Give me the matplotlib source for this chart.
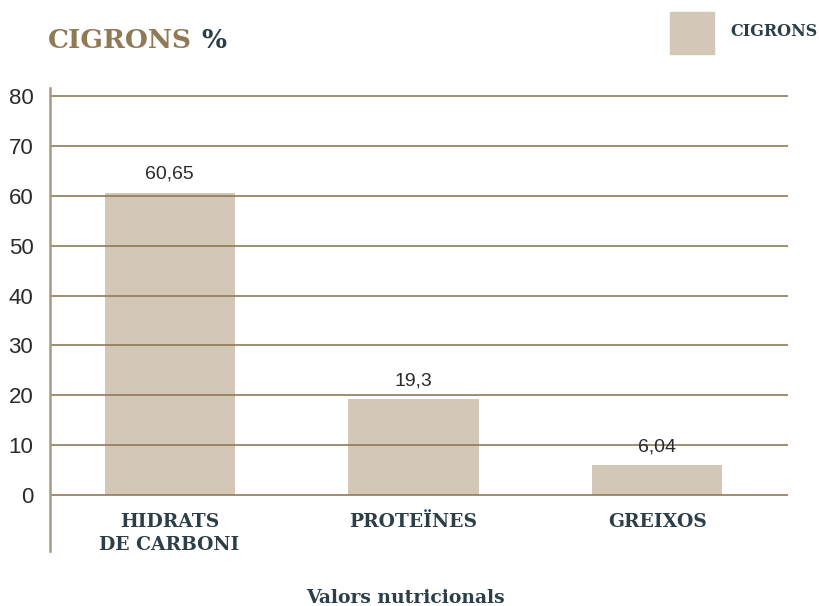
import matplotlib.pyplot as plt

# data
categories = ['HIDRATS\nDE CARBONI', 'PROTEÏNES', 'GREIXOS']
values = [60.65, 19.3, 6.04]
value_labels = ['60,65', '19,3', '6,04']
yticks = [0, 10, 20, 30, 40, 50, 60, 70, 80]

bar_col = '#d3c7b8'
grid_col = '#8f7a55'
dark = '#2c3e48'
tan = '#8f7a55'
slab = 'DejaVu Serif'
num_font = 'Liberation Sans'

fig = plt.figure(figsize=(8.19, 6.06), dpi=100)
ax = fig.add_axes([50/819, 55/606, 738/819, 463/606])

ax.bar(range(len(values)), values, width=0.533, color=bar_col, zorder=1)
for y in yticks:
    ax.axhline(y, color=grid_col, lw=1.2, zorder=2)

ax.set_xlim(-0.49, 2.535)
ax.set_ylim(-11.2, 81.6)
ax.set_yticks(yticks)
ax.set_yticklabels([str(t) for t in yticks], fontsize=16, color='#2a2a2a',
                   family=num_font)
ax.tick_params(axis='y', length=0, pad=12)
ax.set_xticks([])
for s in ['top', 'right', 'bottom']:
    ax.spines[s].set_visible(False)
ax.spines['left'].set_color('#a89a80')
ax.spines['left'].set_linewidth(1.8)

for i, (v, lab) in enumerate(zip(values, value_labels)):
    ax.annotate(lab, (i, v), xytext=(0, 13), textcoords='offset points',
                ha='center', va='center', fontsize=14, color='#2a2a2a',
                family=num_font)
    ax.annotate(categories[i], (i, 0), xytext=(0, -13), textcoords='offset points',
                ha='center', va='top', fontsize=13.5, color=dark,
                family=slab, fontweight='bold', linespacing=1.35)

# title in two colours
t1 = fig.text(48/819, 1 - 40/606, 'CIGRONS', fontsize=19, fontweight='bold',
              family=slab, color=tan, va='center', ha='left')
fig.canvas.draw()
bb = t1.get_window_extent()
fig.text((bb.x1 + 9) / 819, 1 - 40/606, '%', fontsize=19, fontweight='bold',
         family=slab, color=dark, va='center', ha='left')

# legend
fig.patches.append(plt.Rectangle((670/819, 1 - 54/606), 44/819, 42/606,
                                 transform=fig.transFigure, color=bar_col))
fig.text(730/819, 1 - 31/606, 'CIGRONS', fontsize=11.5, fontweight='bold',
         family=slab, color=dark, va='center', ha='left')

fig.text(405/819, 1 - 598/606, 'Valors nutricionals', fontsize=13.5,
         fontweight='bold', family=slab, color=dark, va='center', ha='center')

fig.savefig('out.png', dpi=100)
